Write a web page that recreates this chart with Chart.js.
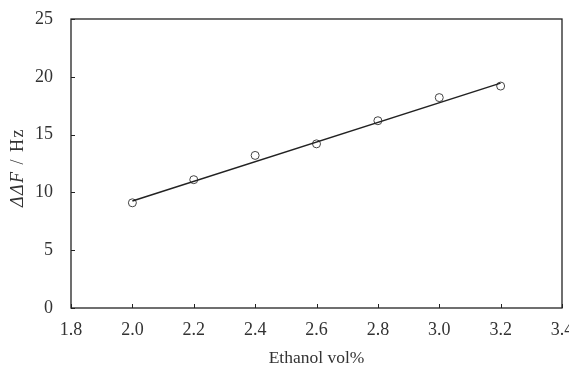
<!DOCTYPE html>
<html>
<head>
<meta charset="utf-8">
<script src="https://cdn.jsdelivr.net/npm/chart.js@4/dist/chart.umd.min.js"></script>
<style>
html,body{margin:0;padding:0;background:#fff;}
#wrap{width:569px;height:369px;}
</style>
</head>
<body>
<div id="wrap"><canvas id="c" width="569" height="369"></canvas></div>
<script>
const ethanolVol = [2.0, 2.2, 2.4, 2.6, 2.8, 3.0, 3.2];
const deltaDeltaF = [9.1, 11.1, 13.2, 14.2, 16.2, 18.2, 19.2];
const fitX = [2.0, 3.2];
const fitY = [9.25, 19.45];
const xTicks = [1.8, 2.0, 2.2, 2.4, 2.6, 2.8, 3.0, 3.2, 3.4];
const yTicks = [0, 5, 10, 15, 20, 25];
const xTitle = 'Ethanol vol%';
const yTitleItalic = 'ΔΔF';
const yTitleRest = ' / Hz';

const FONT = '"Liberation Serif", "DejaVu Serif", serif';
const INK = '#222';

const frame = {
  id: 'frame',
  afterDraw(chart) {
    const {ctx, chartArea: a, scales} = chart;
    ctx.save();
    ctx.strokeStyle = INK;
    ctx.lineWidth = 1.3;
    ctx.strokeRect(a.left, a.top, a.right - a.left, a.bottom - a.top);
    ctx.lineWidth = 1;
    ctx.beginPath();
    yTicks.forEach(v => {
      const y = Math.round(scales.y.getPixelForValue(v)) + 0.5;
      ctx.moveTo(a.left, y); ctx.lineTo(a.left + 4, y);
    });
    xTicks.forEach(v => {
      const x = Math.round(scales.x.getPixelForValue(v)) + 0.5;
      ctx.moveTo(x, a.bottom); ctx.lineTo(x, a.bottom - 4);
    });
    ctx.stroke();
    // y title with italic part
    ctx.fillStyle = '#333';
    ctx.translate(18, (a.top + a.bottom) / 2 + 4);
    ctx.rotate(-Math.PI / 2);
    ctx.textBaseline = 'middle';
    ctx.letterSpacing = '1.5px';
    ctx.font = 'italic 18px ' + FONT;
    const w1 = ctx.measureText(yTitleItalic).width;
    ctx.font = '18px ' + FONT;
    const w2 = ctx.measureText(yTitleRest).width;
    const start = -(w1 + w2) / 2;
    ctx.textAlign = 'left';
    ctx.font = 'italic 18px ' + FONT;
    ctx.fillText(yTitleItalic, start, 0);
    ctx.font = '18px ' + FONT;
    ctx.fillText(yTitleRest, start + w1, 0);
    ctx.restore();
  }
};

new Chart(document.getElementById('c'), {
  data: {
    datasets: [
      {
        type: 'line',
        label: 'fit',
        data: fitX.map((x, i) => ({x, y: fitY[i]})),
        borderColor: INK,
        borderWidth: 1.5,
        pointRadius: 0,
        fill: false,
        tension: 0
      },
      {
        type: 'scatter',
        label: 'data',
        data: ethanolVol.map((x, i) => ({x, y: deltaDeltaF[i]})),
        backgroundColor: '#fff',
        borderColor: '#444',
        borderWidth: 1,
        pointRadius: 4,
        pointStyle: 'circle'
      }
    ]
  },
  options: {
    responsive: false,
    animation: false,
    devicePixelRatio: 1,
    layout: {padding: {left: 0, right: 7, top: 19, bottom: 0}},
    plugins: {legend: {display: false}, tooltip: {enabled: false}},
    scales: {
      x: {
        type: 'linear',
        min: 1.8, max: 3.4,
        grid: {display: false, drawTicks: false},
        border: {display: false},
        afterBuildTicks: s => { s.ticks = xTicks.map(v => ({value: v})); },
        afterFit: s => { s.height = 61; s.paddingRight = 0; s.paddingLeft = 0; },
        ticks: {
          color: '#333', padding: 11,
          font: {family: FONT, size: 18},
          callback: v => Number(v).toFixed(1),
          maxRotation: 0
        },
        title: {display: true, text: xTitle, color: '#333', font: {family: FONT, size: 17.5}, padding: {top: 0, bottom: 0}}
      },
      y: {
        type: 'linear',
        min: 0, max: 25,
        grid: {display: false, drawTicks: false},
        border: {display: false},
        afterBuildTicks: s => { s.ticks = yTicks.map(v => ({value: v})); },
        afterFit: s => { s.width = 71; s.paddingTop = 0; s.paddingBottom = 0; },
        ticks: {
          color: '#333', padding: 18,
          font: {family: FONT, size: 18},
          callback: v => String(v)
        }
      }
    }
  },
  plugins: [frame]
});
</script>
</body>
</html>
